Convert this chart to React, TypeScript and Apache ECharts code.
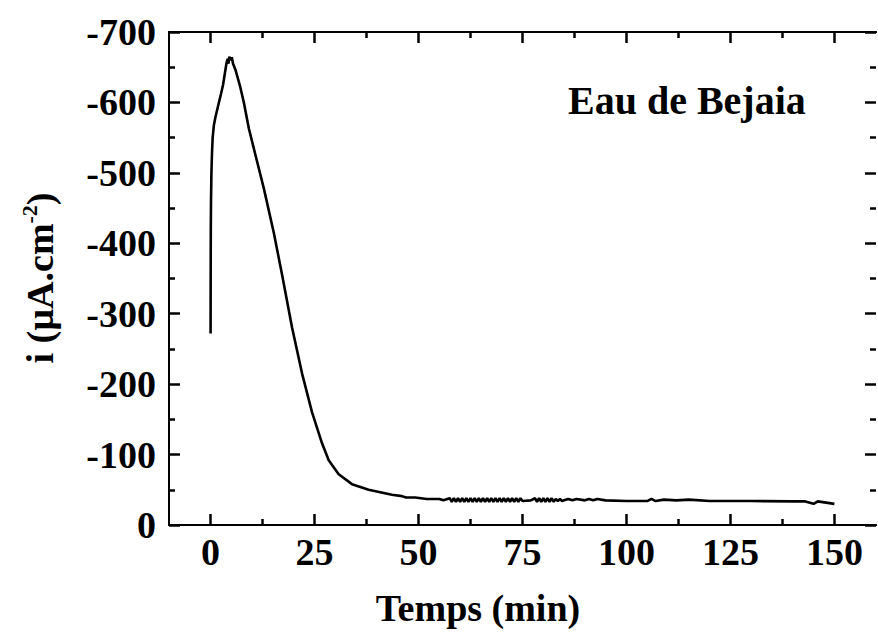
import React, { useEffect, useRef } from "react";
import * as echarts from "echarts";

const timeMin: number[] = [
  0, 0.02, 0.05, 0.1, 0.2, 0.35, 0.5, 0.8, 1.2, 1.8, 2.5, 3.0, 3.4, 3.8, 4.1, 4.3, 4.5, 4.8, 5.1, 5.4,
  6.0, 7.0, 8.0, 9.2, 10.8, 12.8, 15.2, 17.2, 19.6, 22.0, 24.4, 26.8, 28.4, 30.8, 34, 38, 43.6, 46, 47,
  49.2, 52, 55, 56,
  57.5, 58, 58.5, 59, 59.5, 60, 60.5, 61, 61.5, 62, 62.5, 63, 63.5, 64, 64.5, 65, 65.5, 66, 66.5, 67,
  67.5, 68, 68.5, 69, 69.5, 70, 70.5, 71, 71.5, 72, 72.5, 73, 73.5, 74, 74.5, 75,
  77, 78, 78.5, 79, 79.5, 80, 80.5, 81, 81.5, 82, 82.5, 83, 83.5, 84, 84.5, 85, 86, 87, 88, 90, 91, 92, 93,
  95, 100, 105, 106, 107, 109, 112, 115, 120, 130, 140, 143, 145, 146, 150,
];
const currentDensity: number[] = [
  -272, -350, -420, -460, -500, -530, -550, -568, -580, -595, -612, -625, -640, -655, -662, -655, -665, -660, -664, -655,
  -646, -625, -600, -563, -525, -478, -415, -355, -280, -215, -160, -116, -92, -72, -58, -50, -43, -41, -39,
  -39, -37, -37, -35,
  -38, -33, -38, -33, -38, -33, -38, -33, -38, -33, -38, -33, -38, -33, -38, -33, -38, -33, -38, -33,
  -38, -33, -38, -33, -38, -33, -38, -33, -38, -33, -38, -33, -38, -33, -38, -34,
  -35, -38, -33, -38, -33, -38, -33, -38, -33, -38, -33, -37, -34, -37, -34, -35, -37, -35, -37, -35, -37, -35, -37,
  -35, -34, -34, -37, -34, -36, -35, -36, -34, -34, -33.5, -33.5, -30, -33.5, -30, -33.5,
];

const xMajorTicks: number[] = [0, 25, 50, 75, 100, 125, 150];
const xMinorTicks: number[] = [12.5, 37.5, 62.5, 87.5, 112.5, 137.5];

const titleText = "Eau de Bejaia";
const xTitle = "Temps (min)";

const FONT = "'Liberation Serif', 'Times New Roman', serif";
const X_MIN = -10;
const X_MAX = 160;
const Y_MIN = -700;
const Y_MAX = 0;

export default function App() {
  const ref = useRef<HTMLDivElement>(null);
  useEffect(() => {
    document.body.style.margin = "0";
    if (!ref.current) return;
    const chart = echarts.init(ref.current, undefined, { renderer: "svg" });
    const data = timeMin.map((t, i) => [t, currentDensity[i]]);

    const mk = (c: string, w: number) => ({ color: c, width: w });
    const baseX = (pos: "top" | "bottom", ticks: number[], len: number, labels: boolean) => ({
      type: "value",
      position: pos,
      min: X_MIN,
      max: X_MAX,
      axisLine: { show: true, onZero: false, lineStyle: mk("#000", 2) },
      splitLine: { show: false },
      axisTick: { show: true, inside: true, length: len, lineStyle: mk("#000", 2.5), customValues: ticks },
      axisLabel: labels
        ? {
            show: true,
            customValues: ticks,
            margin: 8,
            color: "#000",
            fontFamily: FONT,
            fontWeight: "bold",
            fontSize: 38,
          }
        : { show: false },
    });
    const baseY = (pos: "left" | "right", labels: boolean) => ({
      type: "value",
      position: pos,
      min: Y_MIN,
      max: Y_MAX,
      interval: 100,
      inverse: true,
      axisLine: { show: true, onZero: false, lineStyle: mk(labels ? "#000" : "rgba(0,0,0,0)", 2) },
      splitLine: { show: false },
      axisTick: { show: true, inside: true, length: 11, lineStyle: mk("#000", 2.5) },
      minorTick: { show: true, splitNumber: 2, length: 6, lineStyle: mk("#000", 2.5) },
      axisLabel: labels
        ? {
            show: true,
            margin: 13,
            color: "#000",
            fontFamily: FONT,
            fontWeight: "bold",
            fontSize: 38,
          }
        : { show: false },
    });

    chart.setOption({
      animation: false,
      grid: { left: 169, top: 32, right: 2, bottom: 114 },
      xAxis: [
        baseX("bottom", xMajorTicks, 11, true),
        baseX("bottom", xMinorTicks, 6, false),
        baseX("top", xMajorTicks, 11, false),
        baseX("top", xMinorTicks, 6, false),
      ],
      yAxis: [baseY("left", true), baseY("right", false)],
      series: [
        {
          type: "line",
          xAxisIndex: 0,
          yAxisIndex: 0,
          data,
          showSymbol: false,
          symbol: "none",
          lineStyle: { color: "#000", width: 2.6 },
          silent: true,
        },
      ],
      graphic: [
        {
          type: "text",
          left: 568,
          top: 80,
          style: {
            text: titleText,
            fontFamily: FONT,
            fontWeight: "bold",
            fontSize: 40,
            fill: "#000",
          },
        },
        {
          type: "text",
          x: 478,
          y: 608,
          style: {
            text: xTitle,
            fontFamily: FONT,
            fontWeight: "bold",
            fontSize: 38,
            fill: "#000",
            align: "center",
            verticalAlign: "middle",
          },
        },
        {
          type: "text",
          x: 40,
          y: 278,
          rotation: Math.PI / 2,
          style: {
            text: "{n|i (µA.cm}{s|-2}{n|)}",
            fontFamily: FONT,
            fontWeight: "bold",
            fontSize: 38,
            fill: "#000",
            align: "center",
            verticalAlign: "middle",
            rich: {
              n: { fontFamily: FONT, fontWeight: "bold", fontSize: 38, fill: "#000", lineHeight: 44 },
              s: { fontFamily: FONT, fontWeight: "bold", fontSize: 22, fill: "#000", verticalAlign: "top", lineHeight: 44 },
            },
          },
        },
      ],
    });
    return () => chart.dispose();
  }, []);
  return <div ref={ref} style={{ width: 878, height: 639 }} />;
}
